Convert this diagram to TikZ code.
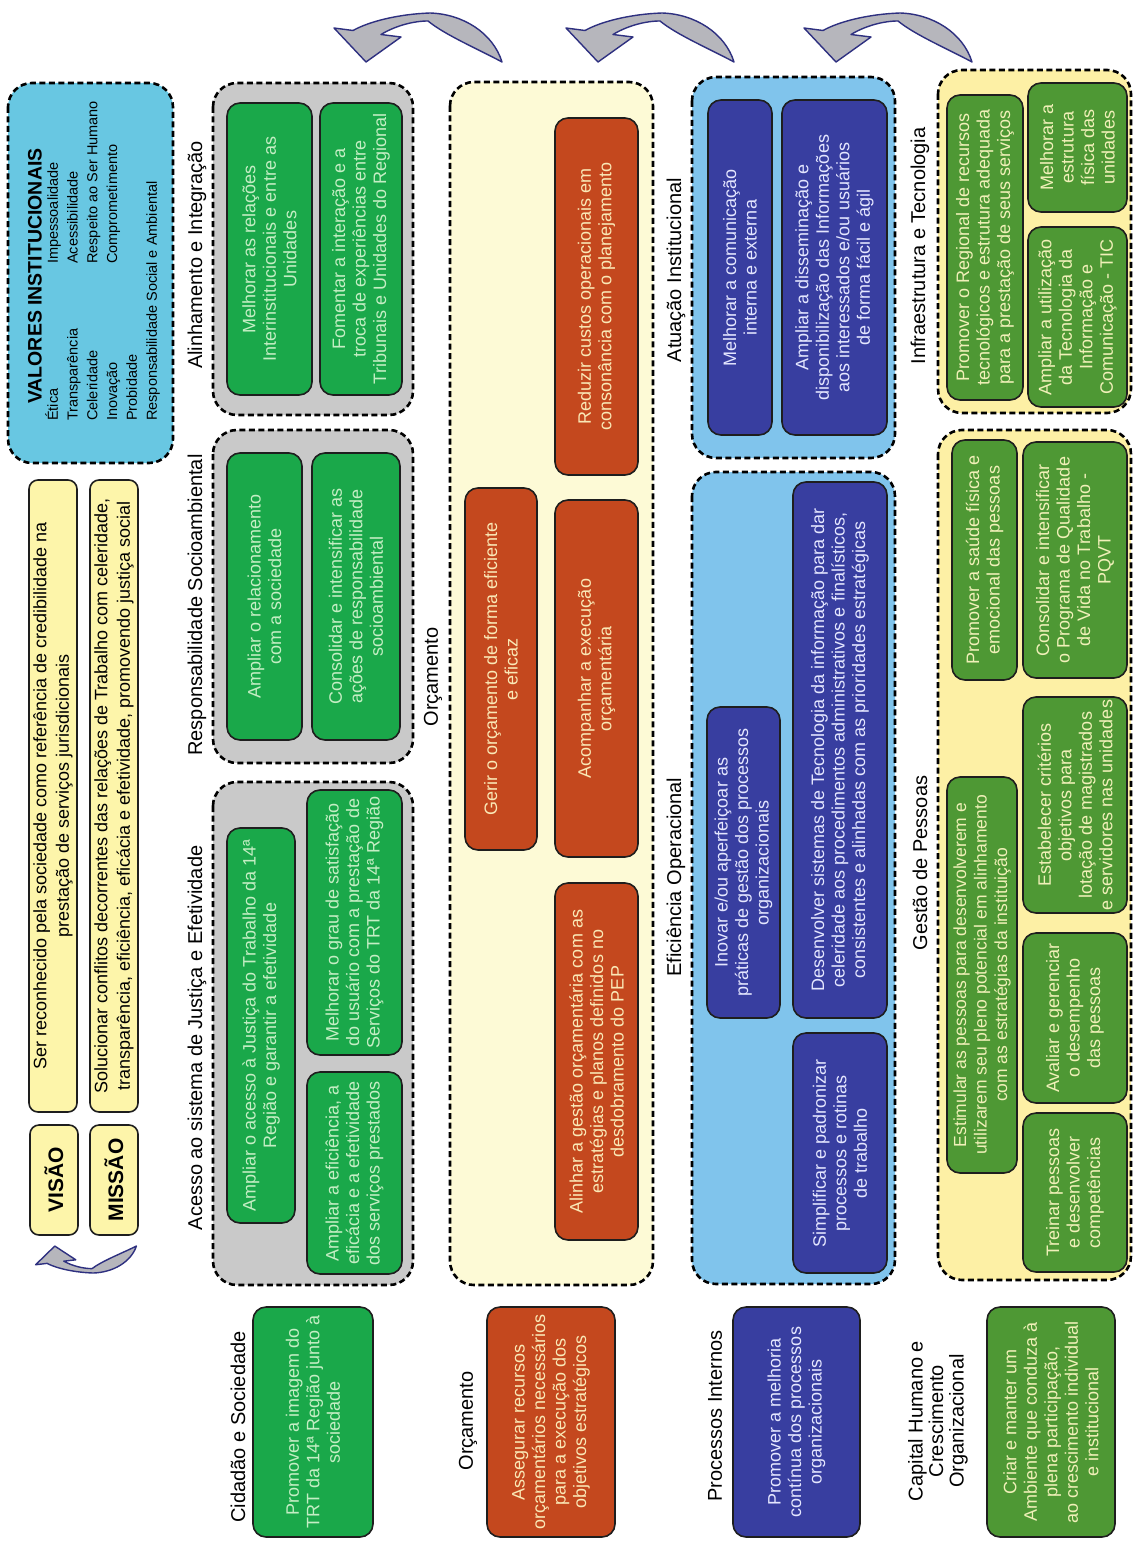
\documentclass[tikz,border=0pt]{standalone}
\usepackage{fontspec}
\setmainfont{Liberation Sans}
\definecolor{cgreen}{RGB}{26,168,74}
\definecolor{tgreen}{RGB}{196,238,196}
\definecolor{cgrayc}{RGB}{201,201,201}
\definecolor{corange}{RGB}{196,72,30}
\definecolor{torange}{RGB}{250,232,182}
\definecolor{ccream}{RGB}{253,250,214}
\definecolor{clblue}{RGB}{128,196,236}
\definecolor{cdblue}{RGB}{56,62,160}
\definecolor{tdblue}{RGB}{228,230,255}
\definecolor{cyell}{RGB}{253,240,165}
\definecolor{colive}{RGB}{78,152,52}
\definecolor{tolive}{RGB}{240,240,184}
\definecolor{cvis}{RGB}{253,245,170}
\definecolor{cval}{RGB}{104,199,226}
\definecolor{carrf}{RGB}{182,182,188}
\definecolor{carrl}{RGB}{46,48,128}
\definecolor{cedge}{RGB}{30,30,30}
\newcommand{\boxfont}{\fontsize{18}{20.5}\selectfont}
\newcommand{\labfont}{\fontsize{20}{23}\selectfont}
\newcommand{\bx}[7]{%
  \pgfmathsetmacro{\qbw}{#6-#4}%
  \pgfmathsetmacro{\qbh}{#5-#3}%
  \pgfmathsetmacro{\qcx}{(#3+#5)/2}%
  \pgfmathsetmacro{\qcy}{(#4+#6)/2}%
  \node[#2, rotate=90, minimum width=\qbw pt, minimum height=\qbh pt] (#1) at (\qcx,\qcy) {#7};}
\tikzset{
  cont/.style={draw=black, line width=2.6pt, dash pattern=on 6pt off 3.5pt, rounded corners=24pt, inner sep=0pt},
  obox/.style={draw=cedge, line width=1.6pt, rounded corners=13pt, align=center, inner sep=2pt, font=\boxfont},
  gbox/.style={obox, fill=cgreen, text=tgreen},
  rbox/.style={obox, fill=corange, text=torange},
  dbbox/.style={obox, fill=cdblue, text=tdblue},
  lbox/.style={obox, fill=colive, text=tolive},
  ybox/.style={obox, fill=cvis, text=black, rounded corners=9pt},
  lab/.style={rotate=90, inner sep=0pt, font=\labfont, align=center},
  arrst/.style={fill=carrf, draw=carrl, line width=1.4pt, line join=round},
  curvarr/.pic={\path[arrst] (169,49) .. controls (160,20) and (130,1) .. (97,0)
      .. controls (67,1) and (37,8) .. (20,17.5) -- (1,15) -- (33,49) -- (68,24) -- (48,21.5)
      .. controls (62,13) and (80,8) .. (95,8) .. controls (112,22) and (145,36) .. (169,49) -- cycle;}
}
\begin{document}
\begin{tikzpicture}[x=1pt, y=-1pt]
\useasboundingbox[fill=white] (0,0) rectangle (1134,1541);

% arrows
\pic at (333,13) {curvarr};
\pic at (565,13) {curvarr};
\pic at (803,13) {curvarr};
\pic[xscale=0.6, yscale=-0.55] at (35,1273) {curvarr};

% valores
\bx{val}{cont, fill=cval}{8}{83}{173}{463}{}
\node[rotate=90, anchor=west, inner sep=0pt, font=\fontsize{19.5}{22}\selectfont\bfseries] (valt) at (35,404) {VALORES INSTITUCIONAIS};
\node[rotate=90, anchor=north west, inner sep=0pt, align=left, font=\fontsize{14.5}{19.8}\selectfont] (valc1) at (45,421) {Ética\\Transparência\\Celeridade\\Inovação\\Probidade\\Responsabilidade Social e Ambiental};
\node[rotate=90, anchor=north west, inner sep=0pt, align=left, font=\fontsize{14.5}{19.8}\selectfont] (valc2) at (45,264) {\vphantom{É}Impessoalidade\\Acessibilidade\\Respeito ao Ser Humano\\Comprometimento};

% vision / mission
\bx{visl}{ybox, font=\fontsize{21}{24}\selectfont\bfseries}{30}{1125}{78}{1235}{VISÃO}
\bx{misl}{ybox, font=\fontsize{21}{24}\selectfont\bfseries}{90}{1125}{138}{1235}{MISSÃO}
\bx{vist}{ybox, font=\fontsize{18}{22.5}\selectfont}{29}{480}{77}{1112}{Ser reconhecido pela sociedade como referência de credibilidade na\\prestação de serviços jurisdicionais}
\bx{mist}{ybox, font=\fontsize{18}{22.5}\selectfont}{90}{480}{138}{1112}{Solucionar conflitos decorrentes das relações de Trabalho com celeridade,\\transparência, eficiência, eficácia e efetividade, promovendo justiça social}

% containers
\bx{gAI}{cont, fill=cgrayc}{213}{83}{413}{415}{}
\bx{gRS}{cont, fill=cgrayc}{213}{430}{413}{763}{}
\bx{gAJ}{cont, fill=cgrayc}{213}{782}{413}{1285}{}
\bx{gOR}{cont, fill=ccream}{450}{82}{653}{1285}{}
\bx{gAT}{cont, fill=clblue}{692}{77}{895}{458}{}
\bx{gEF}{cont, fill=clblue}{692}{472}{895}{1284}{}
\bx{gIT}{cont, fill=cyell}{938}{70}{1131}{413}{}
\bx{gGP}{cont, fill=cyell}{938}{430}{1131}{1280}{}

% labels
\node[lab] (lAI) at (197,255) {Alinhamento e Integração};
\node[lab] (lRS) at (197,605) {Responsabilidade Socioambiental};
\node[lab] (lAJ) at (197,1038) {Acesso ao sistema de Justiça e Efetividade};
\node[lab] (lOR) at (433,677) {Orçamento};
\node[lab] (lAT) at (676,270) {Atuação Institucional};
\node[lab] (lEF) at (676,877) {Eficiência Operacional};
\node[lab] (lIT) at (920,246) {Infraestrutura e Tecnologia};
\node[lab] (lGP) at (920,863) {Gestão de Pessoas};
\node[lab] (pCS) at (238,1427) {Cidadão e Sociedade};
\node[lab] (pOR) at (468,1421) {Orçamento};
\node[lab] (pPI) at (715,1416) {Processos Internos};
\node[lab, font=\fontsize{20}{20.5}\selectfont] (pCH) at (938,1421) {Capital Humano e\\Crescimento\\Organizacional};

% perspective boxes
\bx{cs}{gbox}{253}{1307}{373}{1537}{Promover a imagem do\\TRT da 14ª Região junto à\\sociedade}
\bx{orp}{rbox}{487}{1307}{615}{1537}{Assegurar recursos\\orçamentários necessários\\para a execução dos\\objetivos estratégicos}
\bx{pip}{dbbox}{733}{1307}{860}{1537}{Promover a melhoria\\contínua dos processos\\organizacionais}
\bx{chp}{lbox}{987}{1307}{1115}{1537}{Criar e manter um\\Ambiente que conduza à\\plena participação,\\ao crescimento individual\\e institucional}

% row A
\bx{a1}{gbox}{227}{103}{312}{395}{Melhorar as relações\\Interinstitucionais e entre as\\Unidades}
\bx{a2}{gbox}{320}{103}{402}{395}{Fomentar a interação e a\\troca de experiências entre\\Tribunais e Unidades do Regional}
\bx{r1}{gbox}{227}{453}{302}{740}{Ampliar o relacionamento\\com a sociedade}
\bx{r2}{gbox}{312}{453}{400}{740}{Consolidar e intensificar as\\ações de responsabilidade\\socioambiental}
\bx{j1}{gbox}{227}{828}{295}{1223}{Ampliar o acesso à Justiça do Trabalho da 14ª\\Região e garantir a efetividade}
\bx{j2}{gbox}{307}{790}{402}{1055}{Melhorar o grau de satisfação\\do usuário com a prestação de\\Serviços do TRT da 14ª Região}
\bx{j3}{gbox}{307}{1072}{402}{1274}{Ampliar a eficiência, a\\eficácia e a efetividade\\dos serviços prestados}

% row B
\bx{o1}{rbox}{555}{118}{638}{475}{Reduzir custos operacionais em\\consonância com o planejamento}
\bx{o2}{rbox}{465}{488}{537}{850}{Gerir o orçamento de forma eficiente\\e eficaz}
\bx{o3}{rbox}{555}{500}{638}{857}{Acompanhar a execução\\orçamentária}
\bx{o4}{rbox}{555}{883}{638}{1240}{Alinhar a gestão orçamentária com as\\estratégias e  planos definidos no\\desdobramento do PEP}

% row C
\bx{t1}{dbbox}{708}{100}{772}{435}{Melhorar a comunicação\\interna e externa}
\bx{t2}{dbbox}{782}{100}{887}{435}{Ampliar a disseminação e\\disponibilização das Informações\\aos interessados e/ou usuários\\de forma fácil e ágil}
\bx{e1}{dbbox}{707}{707}{780}{1018}{Inovar e/ou aperfeiçoar as\\práticas de gestão dos processos\\organizacionais}
\bx{e2}{dbbox}{793}{482}{887}{1018}{Desenvolver sistemas de Tecnologia da informação para dar\\celeridade aos procedimentos administrativos e finalísticos,\\consistentes e alinhadas com as prioridades estratégicas}
\bx{e3}{dbbox}{793}{1033}{887}{1273}{Simplificar e padronizar\\processos e rotinas\\de trabalho}

% row D
\bx{i1}{lbox}{947}{95}{1023}{400}{Promover o Regional de recursos\\tecnológicos e estrutura adequada\\para a prestação de seus serviços}
\bx{i2}{lbox}{1028}{83}{1127}{212}{Melhorar a\\estrutura\\física das\\unidades}
\bx{i3}{lbox}{1028}{227}{1127}{407}{Ampliar a utilização\\da Tecnologia da\\Informação e\\Comunicação - TIC}
\bx{g1}{lbox}{952}{440}{1017}{680}{Promover a saúde física e\\emocional das pessoas}
\bx{g2}{lbox}{1023}{442}{1127}{678}{Consolidar e intensificar\\o Programa de Qualidade\\de Vida no Trabalho -\\PQVT}
\bx{g3}{lbox, font=\fontsize{17.5}{20.5}\selectfont}{947}{777}{1017}{1173}{Estimular as pessoas para desenvolverem e\\utilizarem seu pleno potencial em alinhamento\\com as estratégias da instituição}
\bx{g4}{lbox}{1023}{697}{1127}{913}{Estabelecer critérios\\objetivos para\\lotação de magistrados\\e servidores nas unidades}
\bx{g5}{lbox}{1023}{933}{1127}{1103}{Avaliar e gerenciar\\o desempenho\\das pessoas}
\bx{g6}{lbox}{1023}{1113}{1127}{1272}{Treinar pessoas\\e desenvolver\\competências}
\end{tikzpicture}
\end{document}
